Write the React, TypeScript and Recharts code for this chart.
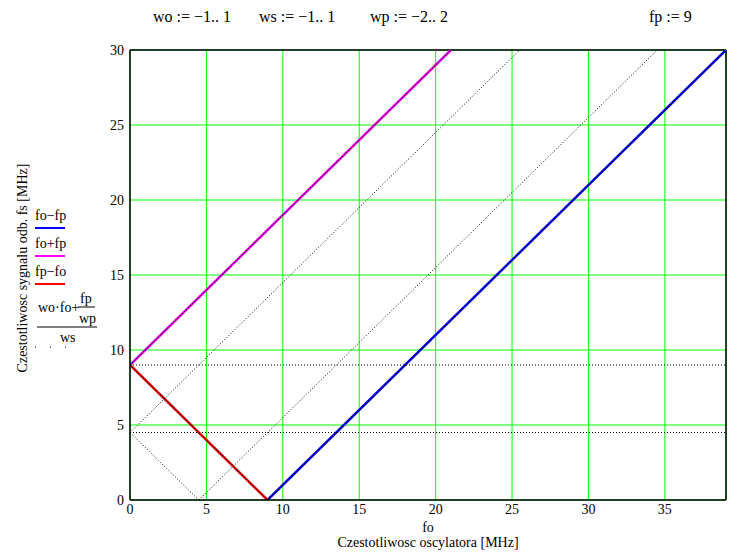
import type { ReactElement } from "react";
import { CartesianGrid, Line, LineChart, ReferenceLine, XAxis, YAxis } from "recharts";

// fo [MHz] -> fs [MHz], straight traces
const foMinusFp = [{ fo: 9, fs: 0 }, { fo: 39, fs: 30 }];
const foPlusFp = [{ fo: 0, fs: 9 }, { fo: 21, fs: 30 }];
const fpMinusFo = [{ fo: 0, fs: 9 }, { fo: 9, fs: 0 }];

// (wo*fo + fp/wp)/ws, dotted family
const dotFoPlus9 = [{ fo: 0, fs: 9 }, { fo: 21, fs: 30 }];
const dotFoMinus9 = [{ fo: 9, fs: 0 }, { fo: 39, fs: 30 }];
const dotNineMinusFo = [{ fo: 0, fs: 9 }, { fo: 9, fs: 0 }];
const dotFoPlus45 = [{ fo: 0, fs: 4.5 }, { fo: 25.5, fs: 30 }];
const dotFoMinus45 = [{ fo: 4.5, fs: 0 }, { fo: 34.5, fs: 30 }];
const dotHalfMinusFo = [{ fo: 0, fs: 4.5 }, { fo: 4.5, fs: 0 }];
const dotFlat9 = [{ fo: 0, fs: 9 }, { fo: 39, fs: 9 }];
const dotFlat45 = [{ fo: 0, fs: 4.5 }, { fo: 39, fs: 4.5 }];

const xTicks = [0, 5, 10, 15, 20, 25, 30, 35];
const yTicks = [0, 5, 10, 15, 20, 25, 30];
const xMax = 39;
const yMax = 30;

const FONT = "'Liberation Serif', 'Times New Roman', serif";
const tickStyle = { fill: "#000", fontSize: 14, fontFamily: FONT };

const solidSeries = [
  { name: "fo-fp", data: foMinusFp, color: "#0000ff" },
  { name: "fo+fp", data: foPlusFp, color: "#ff00ff" },
  { name: "fp-fo", data: fpMinusFo, color: "#ff0000" }
];

// loose dots where the trace is alone, tighter where it sits on a coloured line
const dottedSeries = [
  { data: dotFlat9, dash: "1 2" },
  { data: dotFlat45, dash: "1 2" },
  { data: dotFoPlus45, dash: "1 2" },
  { data: dotFoMinus45, dash: "1 2" },
  { data: dotHalfMinusFo, dash: "1 2" },
  { data: dotFoPlus9, dash: "2 1" },
  { data: dotFoMinus9, dash: "2 1" },
  { data: dotNineMinusFo, dash: "2 1" }
];

function Overlay(): ReactElement {
  const t = { fontFamily: FONT, fontSize: 14, fill: "#000" };
  return (
    <svg width={755} height={558} style={{ position: "absolute", left: 0, top: 0, pointerEvents: "none" }}>
      <text x={153} y={22} {...t} fontSize={16}>wo := −1.. 1</text>
      <text x={259} y={22} {...t} fontSize={16}>ws := −1.. 1</text>
      <text x={370} y={22} {...t} fontSize={16}>wp := −2.. 2</text>
      <text x={649} y={22} {...t} fontSize={16}>fp := 9</text>

      <text x={22} y={268} {...t} textAnchor="middle" transform="rotate(-90 22 268)" dy="0.35em">
        Czestotliwosc sygnalu odb. fs [MHz]
      </text>

      <text x={428} y={532} {...t} textAnchor="middle">fo</text>
      <text x={428} y={547} {...t} textAnchor="middle">Czestotliwosc oscylatora [MHz]</text>

      <text x={35} y={220} {...t}>fo−fp</text>
      <line x1={35} x2={65} y1={228} y2={228} stroke="#0000ff" strokeWidth={2} />
      <text x={35} y={248} {...t}>fo+fp</text>
      <line x1={35} x2={65} y1={256} y2={256} stroke="#ff00ff" strokeWidth={2} />
      <text x={35} y={276} {...t}>fp−fo</text>
      <line x1={35} x2={65} y1={284} y2={284} stroke="#ff0000" strokeWidth={2} />

      <text x={38} y={312} {...t}>wo·fo+</text>
      <text x={80} y={303} {...t}>fp</text>
      <line x1={78} x2={95} y1={307} y2={307} stroke="#000" strokeWidth={1} />
      <text x={79} y={323} {...t}>wp</text>
      <line x1={37} x2={97} y1={327} y2={327} stroke="#000" strokeWidth={1} />
      <text x={60} y={342} {...t}>ws</text>
      <line x1={35} x2={66} y1={347} y2={347} stroke="#000" strokeWidth={1} strokeDasharray="1 14" />
    </svg>
  );
}

export default function App(): ReactElement {
  return (
    <div style={{ position: "absolute", left: 0, top: 0, width: 755, height: 558, background: "#fff" }}>
      <LineChart width={755} height={558} margin={{ top: 50, right: 29, bottom: 28, left: 100 }}>
        <CartesianGrid stroke="#00ff00" strokeWidth={1} />
        <XAxis
          type="number"
          dataKey="fo"
          domain={[0, xMax]}
          ticks={xTicks}
          allowDataOverflow
          height={30}
          tickLine={false}
          tickSize={0}
          tickMargin={4}
          axisLine={{ stroke: "#000", strokeWidth: 1.5 }}
          tick={tickStyle}
        />
        <YAxis
          type="number"
          dataKey="fs"
          domain={[0, yMax]}
          ticks={yTicks}
          allowDataOverflow
          width={30}
          tickLine={false}
          tickSize={0}
          tickMargin={6}
          axisLine={{ stroke: "#000", strokeWidth: 1.5 }}
          tick={tickStyle}
        />
        <ReferenceLine y={yMax} stroke="#000" strokeWidth={1.5} />
        <ReferenceLine x={xMax} stroke="#000" strokeWidth={1.5} />
        {solidSeries.map((s) => (
          <Line
            key={s.name}
            data={s.data}
            dataKey="fs"
            name={s.name}
            type="linear"
            stroke={s.color}
            strokeWidth={2.5}
            dot={false}
            activeDot={false}
            isAnimationActive={false}
          />
        ))}
        {dottedSeries.map((d, i) => (
          <Line
            key={`dot-${i}`}
            data={d.data}
            dataKey="fs"
            type="linear"
            stroke="#000"
            strokeWidth={1}
            strokeDasharray={d.dash}
            dot={false}
            activeDot={false}
            isAnimationActive={false}
          />
        ))}
      </LineChart>
      <Overlay />
    </div>
  );
}
